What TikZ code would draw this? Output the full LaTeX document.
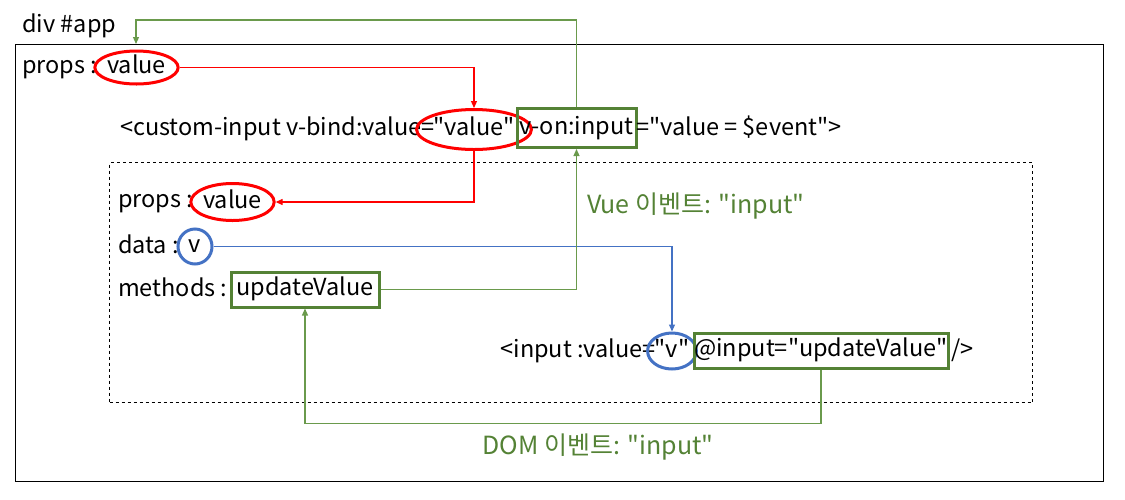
\documentclass[tikz,border=0pt]{standalone}
\usepackage{fontspec}
\setmainfont{Noto Sans CJK KR}
\usetikzlibrary{arrows.meta,shapes.geometric}
\definecolor{gbox}{HTML}{548235}
\definecolor{gline}{HTML}{6A9A4C}
\definecolor{bline}{HTML}{4472C4}
\definecolor{rline}{HTML}{FF0000}
\newcommand\dqt{\textquotedbl}
\begin{document}
\begin{tikzpicture}[x=1pt,y=-1pt,
  txt/.style={inner sep=0pt,text height=17pt,text depth=5pt,font=\fontsize{23.5}{27}\selectfont},
  redell/.style={txt,ellipse,draw=rline,line width=3pt},
  blueell/.style={txt,ellipse,draw=bline,line width=3pt},
  gbx/.style={txt,rectangle,draw=gbox,line width=3pt},
  conn/.style={line width=1.2pt,-{Triangle[length=7pt,width=6pt]}},
  lbl/.style={txt,text=gbox,font=\fontsize{25}{29}\selectfont}]
\useasboundingbox (0,0) rectangle (1125,499);
% containers
\node[draw,line width=1pt,minimum width=1088pt,minimum height=437pt,anchor=north west,inner sep=0pt] (outer) at (15,44) {};
\node[draw,dashed,line width=1pt,minimum width=923pt,minimum height=240pt,anchor=north west,inner sep=0pt] (inner) at (109,162) {};
\node[txt,anchor=west] (divapp) at (22,26) {div \#app};
\coordinate (apptop) at (136,44);
% parent props
\node[txt,anchor=west] (p1lbl) at (22,67) {props :};
\node[redell,minimum width=79pt,minimum height=33pt] (p1val) at (136.5,67.5) {value};
% custom-input line
\node[txt,anchor=east] (c1a) at (435,129) {<custom-input v-bind:value=};
\node[redell,minimum width=81pt,minimum height=40pt] (c1val) at (474,129.5) {\dqt value\dqt};
\node[gbx,minimum width=119pt,minimum height=39pt] (c1on) at (576.5,128) {v-on:input};
\node[txt,anchor=west] (c1rest) at (636,129) {=\dqt value = \$event\dqt>};
% child component
\node[txt,anchor=west] (p2lbl) at (118,201) {props :};
\node[redell,minimum width=79pt,minimum height=37pt] (p2val) at (232.5,202) {value};
\node[txt,anchor=west] (d2lbl) at (118,247) {data :};
\node[blueell,minimum width=34pt,minimum height=35pt] (d2v) at (195,246.5) {v};
\node[txt,anchor=west] (m2lbl) at (118,290) {methods :};
\node[gbx,minimum width=148pt,minimum height=35pt] (m2box) at (305,289.5) {updateValue};
% input line
\node[txt,anchor=east] (in1) at (656,351) {<input :value=};
\node[blueell,minimum width=31pt,minimum height=36pt] (in1v) at (672,351) {\dqt v\dqt};
\node[gbx,minimum width=254pt,minimum height=35pt] (in1box) at (821,350.5) {@input=\dqt updateValue\dqt};
\node[txt,anchor=west] (in1rest) at (951,351) {/>};
% labels
\node[lbl] (vue) at (696,207) {Vue 이벤트: \dqt input\dqt};
\node[lbl] (dom) at (598,448) {DOM 이벤트: \dqt input\dqt};
% connectors
\draw[conn,rline] (p1val.east) -| (c1val.north);
\draw[conn,rline] (c1val.south) |- (p2val.east);
\draw[conn,bline] (d2v.east) -| (in1v.north);
\draw[conn,gline] (m2box.east) -| (c1on.south);
\draw[conn,gline] (c1on.north) -- ++(0,-87) -| (apptop);
\draw[conn,gline] (in1box.south) -- ++(0,54) -| (m2box.south);
\end{tikzpicture}
\end{document}
